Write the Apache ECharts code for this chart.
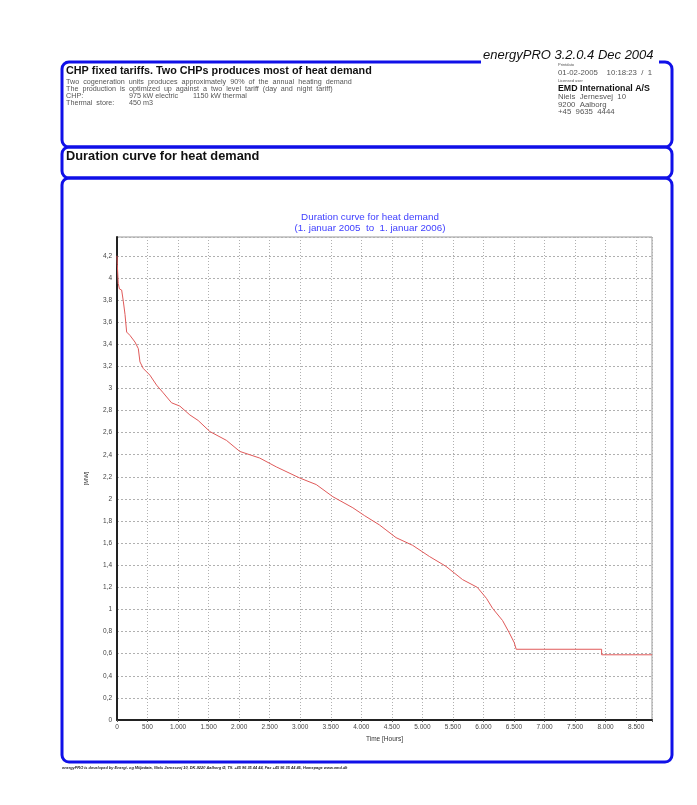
<!DOCTYPE html>
<html>
<head>
<meta charset="utf-8">
<script src="https://cdn.jsdelivr.net/npm/echarts@6/dist/echarts.min.js"></script>
<style>
html,body{margin:0;padding:0;background:#fff;}
#c{width:697px;height:805px;}
</style>
</head>
<body>
<div id="c"></div>
<script>
// ---- data ----
const hours = [0, 5, 20, 40, 76, 103, 131, 158, 212, 294, 349, 376, 431, 539, 648, 757, 893, 1029, 1193, 1329, 1520, 1792, 2010, 2337, 2609, 2990, 3263, 3535, 3862, 4050, 4297, 4569, 4842, 5114, 5387, 5659, 5900, 6050, 6150, 6313, 6422, 6504, 6536, 7935, 7935, 8760];
const heatMW = [4.20, 4.12, 3.95, 3.90, 3.89, 3.79, 3.67, 3.51, 3.48, 3.42, 3.36, 3.24, 3.18, 3.12, 3.03, 2.96, 2.87, 2.84, 2.76, 2.71, 2.61, 2.53, 2.43, 2.37, 2.29, 2.19, 2.13, 2.02, 1.92, 1.85, 1.765, 1.65, 1.58, 1.48, 1.39, 1.27, 1.20, 1.10, 1.01, 0.90, 0.79, 0.70, 0.64, 0.64, 0.59, 0.59];
const headerLines = [
  "Two  cogeneration  units  produces  approximately  90%  of  the  annual  heating  demand",
  "The  production  is  optimized  up  against  a  two  level  tariff  (day  and  night  tariff)"
];
const chpLabel = ["CHP:", "975 kW electric", "1150 kW thermal"];
const storeLabel = ["Thermal  store:", "450 m3"];
const rightLines = ["Niels  Jernesvej  10", "9200  Aalborg", "+45  9635  4444"];

const seriesData = hours.map((h, i) => [h, heatMW[i]]);
const blue = '#1010e8';
const font = 'Liberation Sans, Arial, sans-serif';

function fmtY(v) {
  const r = Math.round(v * 10) / 10;
  if (Math.abs(v - r) > 1e-6) return '';
  if (Math.abs(r * 5 - Math.round(r * 5)) > 1e-6) return '';
  return (Number.isInteger(r) ? String(r) : r.toFixed(1)).replace('.', ',');
}
function fmtX(v) {
  if (v % 500 !== 0) return '';
  return v >= 1000 ? Math.floor(v / 1000) + '.' + String(v % 1000).padStart(3, '0') : String(v);
}

const chart = echarts.init(document.getElementById('c'), null, {renderer: 'canvas'});
function txt(x, y, text, style) {
  return {type: 'text', x: x, y: y, silent: true, z: 10,
    style: Object.assign({text: text, fill: '#333', font: '7px ' + font, textVerticalAlign: 'top'}, style || {})};
}
const small = '7.2px ' + font;

const graphics = [
  {type: 'rect', shape: {x: 62, y: 62, width: 610, height: 85, r: 7}, style: {fill: 'none', stroke: blue, lineWidth: 3}, silent: true},
  {type: 'rect', shape: {x: 62, y: 147, width: 610, height: 31, r: 7}, style: {fill: 'none', stroke: blue, lineWidth: 3}, silent: true},
  {type: 'rect', shape: {x: 62, y: 178, width: 610, height: 584, r: 7}, style: {fill: 'none', stroke: blue, lineWidth: 3}, silent: true},
  {type: 'rect', shape: {x: 481, y: 52, width: 178, height: 14}, style: {fill: '#fff'}, silent: true, z: 5},
  txt(483, 49, 'energyPRO 3.2.0.4 Dec 2004', {font: 'italic 13px ' + font, fill: '#111'}),
  txt(66, 66, 'CHP fixed tariffs. Two CHPs produces most of heat demand', {font: 'bold 10.8px ' + font, fill: '#111'}),
  txt(66, 79, headerLines[0], {fill: '#555', font: small}),
  txt(66, 86, headerLines[1], {fill: '#555', font: small}),
  txt(66, 93, chpLabel[0], {fill: '#555', font: small}),
  txt(129, 93, chpLabel[1], {fill: '#555', font: small}),
  txt(193, 93, chpLabel[2], {fill: '#555', font: small}),
  txt(66, 100, storeLabel[0], {fill: '#555', font: small}),
  txt(129, 100, storeLabel[1], {fill: '#555', font: small}),
  txt(558, 63, 'Printdato', {fill: '#555', font: '4px ' + font}),
  txt(558, 69, '01-02-2005    10:18:23  /  1', {fill: '#555', font: '7.8px ' + font}),
  txt(558, 79, 'Licensed user', {fill: '#555', font: '4px ' + font}),
  txt(558, 84, 'EMD International A/S', {fill: '#111', font: 'bold 8.8px ' + font}),
  txt(558, 93, rightLines[0], {fill: '#555', font: '7.8px ' + font}),
  txt(558, 101, rightLines[1], {fill: '#555', font: '7.8px ' + font}),
  txt(558, 108, rightLines[2], {fill: '#555', font: '7.8px ' + font}),
  txt(66, 150, 'Duration curve for heat demand', {font: 'bold 12.8px ' + font, fill: '#111'}),
  txt(370, 212, 'Duration curve for heat demand', {font: '9.8px ' + font, fill: '#4040ff', textAlign: 'center'}),
  txt(370, 223, '(1. januar 2005  to  1. januar 2006)', {font: '9.8px ' + font, fill: '#4040ff', textAlign: 'center'}),
  txt(62, 766, 'energyPRO is developed by Energi- og Miljødata, Niels Jernesvej 10, DK-9220 Aalborg Ø, Tlf. +45 96 35 44 44, Fax +45 96 35 44 46, Homepage www.emd.dk', {font: 'italic bold 3.9px ' + font, fill: '#222'})
];

chart.setOption({
  animation: false,
  backgroundColor: '#fff',
  grid: {left: 117, top: 237, right: 45, bottom: 85, show: true, borderColor: '#999', borderWidth: 1},
  xAxis: {
    type: 'value', min: 0, max: 8760, interval: 500,
    name: 'Time [Hours]', nameLocation: 'middle', nameGap: 12,
    nameTextStyle: {fontSize: 6.5, color: '#333', fontFamily: font},
    axisLine: {show: true, onZero: false, lineStyle: {color: '#222', width: 2}},
    axisTick: {show: true, length: 2, lineStyle: {color: '#555'}},
    axisLabel: {fontSize: 6.5, color: '#444', margin: 4, fontFamily: font, formatter: fmtX},
    splitLine: {show: true, lineStyle: {color: '#b0b0b0', type: [1, 2], width: 1}}
  },
  yAxis: {
    type: 'value', min: 0, max: 4.37, interval: 0.2,
    name: '[MW]', nameLocation: 'middle', nameGap: 28, nameRotate: 90,
    nameTextStyle: {fontSize: 6, color: '#333', fontFamily: font},
    axisLine: {show: true, lineStyle: {color: '#222', width: 2}},
    axisTick: {show: false},
    axisLabel: {fontSize: 6.5, color: '#444', margin: 5, fontFamily: font, formatter: fmtY},
    splitLine: {show: true, lineStyle: {color: '#b0b0b0', type: [2, 2], width: 1}}
  },
  series: [{
    type: 'line', data: seriesData, showSymbol: false, smooth: false,
    lineStyle: {color: '#e05a5a', width: 1}, z: 3
  }],
  graphic: graphics
});
</script>
</body>
</html>
